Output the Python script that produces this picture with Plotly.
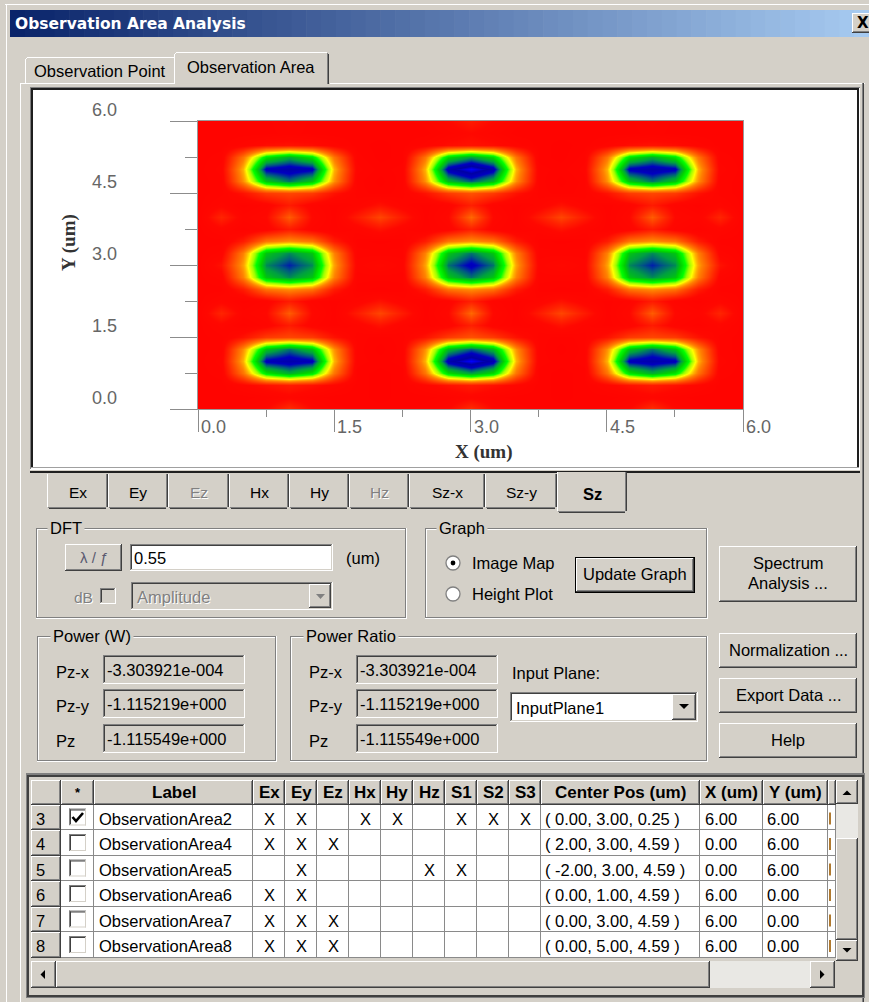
import plotly.graph_objects as go

W, H = 869, 1002
FACE = "#d4d0c8"
DARK = "#404040"
SHADOW = "#808080"
LIGHT = "#ffffff"
CHECK = "#e9e8e4"
UI_FONT = "Liberation Sans"
UI_SIZE = 16.5

# ---------------- data ----------------
x_um = [0.0, 0.25, 0.5, 0.75, 1.0, 1.25, 1.5, 1.75, 2.0, 2.25, 2.5, 2.75, 3.0,
        3.25, 3.5, 3.75, 4.0, 4.25, 4.5, 4.75, 5.0, 5.25, 5.5, 5.75, 6.0]
y_um = [0.0, 0.25, 0.5, 0.75, 1.0, 1.25, 1.5, 1.75, 2.0, 2.25, 2.5, 2.75, 3.0,
        3.25, 3.5, 3.75, 4.0, 4.25, 4.5, 4.75, 5.0, 5.25, 5.5, 5.75, 6.0]
# relative |Sz| (0-100), rows from y = 0.0 (bottom) to y = 6.0 (top)
sz_map = [
    [4, 4, 5, 8, 16, 8, 5, 4, 4, 4, 5, 8, 16, 8, 5, 4, 4, 4, 5, 8, 16, 8, 5, 4, 4],
    [4, 4, 4, 5, 7, 5, 4, 4, 3, 4, 4, 5, 7, 5, 4, 4, 3, 4, 4, 5, 7, 5, 4, 4, 4],
    [4, 4, 7, 10, 12, 10, 7, 4, 3, 4, 7, 10, 12, 10, 7, 4, 3, 4, 7, 10, 12, 10, 7, 4, 4],
    [4, 5, 28, 62, 72, 62, 28, 4, 3, 4, 28, 64, 74, 64, 28, 4, 3, 4, 28, 62, 72, 62, 28, 5, 4],
    [4, 6, 36, 88, 91, 88, 36, 5, 4, 5, 36, 90, 100, 90, 36, 5, 4, 5, 36, 88, 91, 88, 36, 6, 4],
    [4, 5, 32, 68, 78, 68, 32, 5, 3, 5, 32, 70, 80, 70, 32, 5, 3, 5, 32, 68, 78, 68, 32, 5, 4],
    [4, 5, 10, 18, 20, 18, 10, 5, 4, 5, 10, 18, 22, 18, 10, 5, 4, 5, 10, 18, 20, 18, 10, 5, 4],
    [4, 7, 4, 6, 12, 6, 4, 6, 10, 6, 4, 6, 13, 6, 4, 6, 10, 6, 4, 6, 12, 6, 4, 7, 4],
    [4, 14, 6, 8, 24, 8, 4, 12, 20, 12, 4, 8, 26, 8, 4, 12, 20, 12, 4, 8, 24, 8, 6, 14, 4],
    [4, 7, 4, 6, 12, 6, 4, 6, 10, 6, 4, 6, 13, 6, 4, 6, 10, 6, 4, 6, 12, 6, 4, 7, 4],
    [4, 4, 12, 28, 32, 28, 12, 4, 3, 4, 12, 28, 32, 28, 12, 4, 3, 4, 12, 28, 32, 28, 12, 4, 4],
    [4, 6, 30, 68, 76, 68, 30, 5, 5, 5, 30, 68, 78, 68, 30, 5, 5, 5, 30, 68, 76, 68, 30, 6, 4],
    [4, 10, 34, 76, 84, 76, 34, 6, 8, 6, 34, 78, 88, 78, 34, 6, 8, 6, 34, 76, 84, 76, 34, 10, 4],
    [4, 6, 30, 68, 76, 68, 30, 5, 5, 5, 30, 68, 78, 68, 30, 5, 5, 5, 30, 68, 76, 68, 30, 6, 4],
    [4, 4, 12, 28, 32, 28, 12, 4, 3, 4, 12, 28, 32, 28, 12, 4, 3, 4, 12, 28, 32, 28, 12, 4, 4],
    [4, 7, 4, 6, 12, 6, 4, 6, 10, 6, 4, 6, 13, 6, 4, 6, 10, 6, 4, 6, 12, 6, 4, 7, 4],
    [4, 14, 6, 8, 24, 8, 4, 12, 20, 12, 4, 8, 26, 8, 4, 12, 20, 12, 4, 8, 24, 8, 6, 14, 4],
    [4, 7, 4, 6, 12, 6, 4, 6, 10, 6, 4, 6, 13, 6, 4, 6, 10, 6, 4, 6, 12, 6, 4, 7, 4],
    [4, 5, 10, 18, 20, 18, 10, 5, 4, 5, 10, 18, 22, 18, 10, 5, 4, 5, 10, 18, 20, 18, 10, 5, 4],
    [4, 5, 32, 68, 78, 68, 32, 5, 3, 5, 32, 70, 80, 70, 32, 5, 3, 5, 32, 68, 78, 68, 32, 5, 4],
    [4, 6, 36, 88, 91, 88, 36, 6, 4, 5, 36, 90, 100, 90, 36, 5, 4, 6, 36, 88, 91, 88, 36, 6, 4],
    [4, 5, 28, 62, 72, 62, 28, 5, 3, 4, 28, 64, 74, 64, 28, 4, 3, 5, 28, 62, 72, 62, 28, 5, 4],
    [4, 4, 6, 9, 10, 9, 6, 4, 3, 4, 6, 9, 10, 9, 6, 4, 3, 4, 6, 9, 10, 9, 6, 4, 4],
    [4, 4, 4, 4, 5, 4, 4, 4, 4, 4, 4, 6, 8, 6, 4, 4, 4, 4, 4, 4, 5, 4, 4, 4, 4],
    [4, 4, 4, 4, 6, 4, 4, 4, 4, 4, 5, 8, 12, 8, 5, 4, 4, 4, 4, 4, 6, 4, 4, 4, 4],
]
axis_ticks = [0.0, 1.5, 3.0, 4.5, 6.0]
axis_minor = [0.75, 2.25, 3.75, 5.25]
axis_tick_text = ["0.0", "1.5", "3.0", "4.5", "6.0"]

field_tabs = ["Ex", "Ey", "Ez", "Hx", "Hy", "Hz", "Sz-x", "Sz-y", "Sz"]
field_enabled = [True, True, False, True, True, False, True, True, True]
dft_value = "0.55"
power_labels = ["Pz-x", "Pz-y", "Pz"]
power_w = ["-3.303921e-004", "-1.115219e+000", "-1.115549e+000"]
power_ratio = ["-3.303921e-004", "-1.115219e+000", "-1.115549e+000"]

grid_headers = ["*", "Label", "Ex", "Ey", "Ez", "Hx", "Hy", "Hz", "S1", "S2", "S3",
                "Center Pos (um)", "X (um)", "Y (um)"]
grid_row_ids = ["3", "4", "5", "6", "7", "8"]
grid_checked = [True, False, False, False, False, False]
grid_labels = ["ObservationArea2", "ObservationArea4", "ObservationArea5",
               "ObservationArea6", "ObservationArea7", "ObservationArea8"]
grid_marks = [
    ["X", "X", "", "X", "X", "", "X", "X", "X"],
    ["X", "X", "X", "", "", "", "", "", ""],
    ["", "X", "", "", "", "X", "X", "", ""],
    ["X", "X", "", "", "", "", "", "", ""],
    ["X", "X", "X", "", "", "", "", "", ""],
    ["X", "X", "X", "", "", "", "", "", ""],
]
grid_center = ["( 0.00, 3.00, 0.25 )", "( 2.00, 3.00, 4.59 )", "( -2.00, 3.00, 4.59 )",
               "( 0.00, 1.00, 4.59 )", "( 0.00, 3.00, 4.59 )", "( 0.00, 5.00, 4.59 )"]
grid_xsize = ["6.00", "0.00", "0.00", "6.00", "6.00", "6.00"]
grid_ysize = ["6.00", "6.00", "6.00", "0.00", "0.00", "0.00"]

# ---------------- helpers (pixel -> paper) ----------------
shapes, ann = [], []


def fx(x):
    return x / W


def fy(y):
    return 1 - y / H


def box(x0, y0, x1, y1, fill):
    shapes.append(dict(type="rect", xref="paper", yref="paper", x0=fx(x0), x1=fx(x1),
                       y0=fy(y1), y1=fy(y0), fillcolor=fill, line=dict(width=0), layer="below"))


def hl(x0, x1, y, c):
    box(x0, y, x1, y + 1, c)


def vl(x, y0, y1, c):
    box(x, y0, x + 1, y1, c)


def raised(x0, y0, x1, y1):
    box(x0, y0, x1, y1, FACE)
    hl(x0, x1 - 1, y0, LIGHT)
    vl(x0, y0, y1 - 1, LIGHT)
    hl(x0, x1, y1 - 1, DARK)
    vl(x1 - 1, y0, y1, DARK)
    hl(x0 + 1, x1 - 1, y1 - 2, SHADOW)
    vl(x1 - 2, y0 + 1, y1 - 1, SHADOW)


def sunken(x0, y0, x1, y1, fill="white"):
    box(x0, y0, x1, y1, fill)
    hl(x0, x1 - 1, y0, SHADOW)
    vl(x0, y0, y1 - 1, SHADOW)
    hl(x0 + 1, x1 - 2, y0 + 1, DARK)
    vl(x0 + 1, y0 + 1, y1 - 2, DARK)
    hl(x0, x1, y1 - 1, LIGHT)
    vl(x1 - 1, y0, y1, LIGHT)
    hl(x0 + 1, x1 - 1, y1 - 2, FACE)
    vl(x1 - 2, y0 + 1, y1 - 1, FACE)


def etched(x0, y0, x1, y1):
    hl(x0, x1 - 1, y0, SHADOW)
    hl(x0 + 1, x1 - 2, y0 + 1, LIGHT)
    vl(x0, y0, y1 - 1, SHADOW)
    vl(x0 + 1, y0 + 1, y1 - 2, LIGHT)
    hl(x0, x1 - 1, y1 - 2, SHADOW)
    hl(x0, x1, y1 - 1, LIGHT)
    vl(x1 - 2, y0, y1 - 1, SHADOW)
    vl(x1 - 1, y0, y1, LIGHT)


def text(x, y, s, size=UI_SIZE, color="black", anchor="left", bold=False,
         family=UI_FONT, bg=None, pad=0):
    d = dict(xref="paper", yref="paper", x=fx(x), y=fy(y),
             text=f"<b>{s}</b>" if bold else s, showarrow=False,
             xanchor=anchor, yanchor="middle",
             font=dict(family=family, size=size, color=color), borderpad=pad)
    if bg:
        d["bgcolor"] = bg
    ann.append(d)


def dtext(x, y, s, size=UI_SIZE, anchor="left"):
    text(x + 1, y + 1, s, size=size, color=LIGHT, anchor=anchor)
    text(x, y, s, size=size, color=SHADOW, anchor=anchor)


def path(pts, fill="black", close=True, lw=0, lc="black"):
    p = "M" + " L".join(f"{fx(x):.6f},{fy(y):.6f}" for x, y in pts) + (" Z" if close else "")
    shapes.append(dict(type="path", xref="paper", yref="paper", path=p,
                       fillcolor=fill if close else "rgba(0,0,0,0)",
                       line=dict(width=lw, color=lc), layer="below"))


def circle(cx, cy, r, fill, lc=None, lw=0):
    shapes.append(dict(type="circle", xref="paper", yref="paper", x0=fx(cx - r), x1=fx(cx + r),
                       y0=fy(cy + r), y1=fy(cy - r), fillcolor=fill,
                       line=dict(width=lw, color=lc or fill), layer="below"))


def button(x0, y0, x1, y1, label_lines, default=False):
    if default:
        box(x0, y0, x1, y1, "black")
        raised(x0 + 1, y0 + 1, x1 - 1, y1 - 1)
    else:
        raised(x0, y0, x1, y1)
    cx = (x0 + x1) / 2
    n = len(label_lines)
    cy = (y0 + y1) / 2 - 1
    for i, s in enumerate(label_lines):
        text(cx, cy + (i - (n - 1) / 2) * 20, s, anchor="center")


# ---------------- window chrome ----------------
hl(5, W, 4, LIGHT)
vl(6, 4, H, LIGHT)
c0, c1 = (10, 36, 106), (166, 202, 240)
n = 58
tx0, tx1 = 10, W
for i in range(n):
    a = i / (n - 1)
    col = "#%02x%02x%02x" % tuple(int(round(c0[k] + (c1[k] - c0[k]) * a)) for k in range(3))
    xa = tx0 + (tx1 - tx0) * i / n
    xb = tx0 + (tx1 - tx0) * (i + 1) / n + 0.6
    box(xa, 10, xb, 37, col)
text(14, 24, "Observation Area Analysis", size=15.5, color="white", bold=True, family="DejaVu Sans")
raised(852, 13, 872, 33)
text(856, 23, "X", size=15, bold=True, family="DejaVu Sans")

# tab control
hl(20, 865, 83, LIGHT)
vl(20, 83, H, LIGHT)
vl(862, 83, H, SHADOW)
vl(863, 83, H, DARK)
# unselected tab
box(25, 57, 174, 83, FACE)
hl(27, 174, 57, LIGHT)
vl(25, 59, 83, LIGHT)
box(26, 58, 27, 59, LIGHT)
text(99.5, 71, "Observation Point", anchor="center")
# selected tab
box(174, 52, 330, 85, FACE)
hl(176, 327, 52, LIGHT)
vl(174, 54, 84, LIGHT)
box(175, 53, 176, 54, LIGHT)
vl(327, 53, 84, SHADOW)
vl(328, 54, 84, DARK)
text(251, 67, "Observation Area", anchor="center")

# plot panel
box(30, 87, 860, 470, "white")
hl(30, 860, 87, SHADOW)
vl(30, 87, 470, SHADOW)
box(31, 88, 859, 90, "#1e1e1e")
box(31, 88, 33, 468, "#1e1e1e")
box(857, 88, 859, 468, "#1e1e1e")
hl(31, 859, 467, "#a0a0a0")
hl(30, 860, 469, LIGHT)
box(30, 471, 860, 473, "#202020")

# field tabs (bottom tabs)
tb = [47, 108, 168, 229, 289, 349, 409, 485, 557, 627]
for i, lab in enumerate(field_tabs):
    x0, x1 = tb[i], tb[i + 1]
    sel = lab == "Sz"
    y0, y1 = (472, 513) if sel else (474, 509)
    box(x0, y0, x1, y1, FACE)
    vl(x0, y0, y1 - 2, LIGHT)
    vl(x1 - 2, y0, y1 - 2, SHADOW)
    vl(x1 - 1, y0, y1 - 2, DARK)
    hl(x0 + 1, x1 - 2, y1 - 2, SHADOW)
    hl(x0 + 2, x1 - 2, y1 - 1, DARK)
    cx = (x0 + x1) / 2
    if sel:
        text(cx, 494, lab, anchor="center", bold=True)
    elif field_enabled[i]:
        text(cx, 492, lab, anchor="center", size=15.5)
    else:
        dtext(cx, 492, lab, size=15.5, anchor="center")

# DFT group
etched(36, 528, 407, 619)
text(47, 528, "DFT", bg=FACE, pad=2)
raised(65, 544, 122, 571)
text(93.5, 557, "λ / ƒ", anchor="center", color="#5a5a70", size=15)
sunken(130, 544, 333, 571)
text(133, 558, dft_value)
text(345, 558, "(um)")
dtext(73, 597, "dB", size=15.5)
sunken(100, 588, 116, 604, FACE)
sunken(131, 582, 333, 610, FACE)
dtext(136, 597, "Amplitude")
raised(309, 584, 331, 608)
path([(316, 594), (325, 594), (320.5, 599)], fill=SHADOW)

# Graph group
etched(425, 528, 708, 619)
text(436, 528, "Graph", bg=FACE, pad=2)
for cy in (563, 594):
    circle(453, cy, 7, "white", lc=SHADOW, lw=1.3)
circle(453, 563, 2.4, "black")
text(471, 563, "Image Map")
text(471, 594, "Height Plot")
button(575, 557, 695, 593, ["Update Graph"], default=True)

# right buttons
button(719, 546, 857, 602, ["Spectrum", "Analysis ..."])
button(719, 633, 857, 668, ["Normalization ..."])
button(719, 678, 857, 713, ["Export Data ..."])
button(719, 723, 857, 758, ["Help"])

# Power groups
etched(37, 636, 277, 762)
text(50, 636, "Power (W)", bg=FACE, pad=2)
etched(290, 636, 708, 762)
text(303, 636, "Power Ratio", bg=FACE, pad=2)
rows_y = [(655, 684), (689, 718), (724, 753)]
for (y0, y1), lab, v1, v2 in zip(rows_y, power_labels, power_w, power_ratio):
    cy = (y0 + y1) / 2
    text(55, cy + 2, lab)
    sunken(103, y0, 245, y1, FACE)
    text(106, cy, v1)
    text(308, cy + 2, lab)
    sunken(356, y0, 498, y1, FACE)
    text(359, cy, v2)
text(511, 673, "Input Plane:")
sunken(510, 692, 698, 722)
text(515, 708, "InputPlane1")
raised(672, 694, 696, 720)
path([(679, 704), (689, 704), (684, 709)])

# ---------------- grid ----------------
box(26, 773, 865, 998, SHADOW)
box(27, 775, 864, 997, DARK)
box(29, 777, 862, 995, FACE)
ce = [31, 61, 94, 253, 285, 317, 349, 381, 413, 445, 477, 509, 541, 700, 763, 828, 836]
ry = [805, 830, 856, 881, 907, 932, 958]
HY0, HY1 = 780, 805


def hdr_cell(x0, y0, x1, y1):
    box(x0, y0, x1, y1, FACE)
    hl(x0, x1, y0, LIGHT)
    vl(x0, y0, y1, LIGHT)
    hl(x0, x1, y1 - 1, DARK)
    vl(x1 - 1, y0, y1, DARK)
    hl(x0 + 1, x1 - 1, y1 - 2, SHADOW)
    vl(x1 - 2, y0 + 1, y1 - 1, SHADOW)


box(ce[0], HY0, ce[-1], ry[-1], "white")
for j in range(len(ce) - 1):
    hdr_cell(ce[j], HY0, ce[j + 1], HY1)
for j, h in enumerate(grid_headers):
    cx = (ce[j + 1] + ce[j + 2]) / 2
    text(cx, 792, h, size=17 if h != "*" else 13, bold=True, anchor="center")
for i in range(len(grid_row_ids)):
    y0, y1 = ry[i], ry[i + 1]
    hdr_cell(ce[0], y0, ce[1], y1)
    hl(ce[1], ce[-1], y1 - 1, "#8a8a8a")
for j in range(1, len(ce) - 1):
    vl(ce[j + 1] - 1, HY1, ry[-1], "#8a8a8a")

for i, rid in enumerate(grid_row_ids):
    y0, y1 = ry[i], ry[i + 1]
    cy = (y0 + y1) / 2
    text(35, cy + 1, rid, size=UI_SIZE)
    sunken(69, cy - 9, 87, cy + 9)
    if grid_checked[i]:
        path([(72.5, cy - 0.5), (76, cy + 3.5), (83, cy - 4.5)], close=False, lw=2.6)
    text(98, cy + 1, grid_labels[i], size=UI_SIZE)
    for k, m in enumerate(grid_marks[i]):
        if m:
            text((ce[3 + k] + ce[4 + k]) / 2, cy + 1, m, anchor="center", size=UI_SIZE)
    text(544, cy + 1, grid_center[i], size=UI_SIZE)
    text(704, cy + 1, grid_xsize[i], size=UI_SIZE)
    text(766, cy + 1, grid_ysize[i], size=UI_SIZE)
    box(829, cy - 5, 831, cy + 7, "#b07a30")

# vertical scrollbar
raised(836, 780, 858, 804)
path([(842.5, 795), (851.5, 795), (847, 790.5)])
box(836, 804, 858, 838, CHECK)
raised(836, 838, 858, 940)
raised(836, 940, 858, 961)
path([(842.5, 948), (851.5, 948), (847, 952.5)])
# horizontal scrollbar
raised(31, 961, 56, 988)
path([(40.5, 974.5), (45, 970), (45, 979)])
raised(56, 961, 710, 988)
box(710, 961, 810, 988, CHECK)
raised(810, 961, 835, 988)
path([(820, 970), (820, 979), (824.5, 974.5)])

# ---------------- chart ----------------
colorscale = [
    [0.00, "#ff0000"], [0.08, "#ff0800"], [0.14, "#ff2400"], [0.22, "#ff5000"],
    [0.30, "#ff8000"], [0.36, "#ffb400"], [0.42, "#ffff00"], [0.50, "#9cff00"],
    [0.57, "#00ff00"], [0.66, "#00d000"], [0.74, "#00a040"], [0.80, "#005a80"],
    [0.86, "#0000c0"], [0.93, "#0000a4"], [1.00, "#0000ff"],
]
fig = go.Figure(go.Heatmap(x=x_um, y=y_um, z=sz_map, zmin=0, zmax=100,
                           colorscale=colorscale, zsmooth="best", showscale=False,
                           hoverinfo="skip"))

TICKC = "#8c8c8c"
for v, s in zip(axis_ticks, axis_tick_text):
    ann.append(dict(xref="paper", yref="y", x=fx(119), y=v, yshift=11, text=s,
                    showarrow=False, xanchor="right", yanchor="middle",
                    font=dict(family="Liberation Sans", size=18, color="#666666")))
    ann.append(dict(xref="x", yref="paper", x=v, xshift=1, y=fy(427), text=s,
                    showarrow=False, xanchor="left", yanchor="middle",
                    font=dict(family="Liberation Sans", size=18, color="#666666")))
text(484, 452, "X (um)", size=19, bold=True, family="Liberation Serif", color="#333333", anchor="center")
ann.append(dict(xref="paper", yref="paper", x=fx(69), y=fy(243), text="<b>Y (um)</b>",
                showarrow=False, textangle=-90, xanchor="center", yanchor="middle",
                font=dict(family="Liberation Serif", size=19, color="#333333")))

axis_common = dict(range=[0, 6], showgrid=False, zeroline=False, showline=True,
                   linecolor="#9a9a9a", linewidth=1, mirror=True, ticks="outside",
                   tickvals=axis_ticks, tickcolor=TICKC, tickwidth=1,
                   showticklabels=False, fixedrange=True)
fig.update_layout(
    width=W, height=H, margin=dict(l=0, r=0, t=0, b=0),
    paper_bgcolor=FACE, plot_bgcolor="white", showlegend=False,
    xaxis=dict(domain=[198 / W, 743 / W], ticklen=22,
               minor=dict(tickvals=axis_minor, ticks="outside", ticklen=7,
                          tickcolor=TICKC, tickwidth=1), **axis_common),
    yaxis=dict(domain=[1 - 409 / H, 1 - 121 / H], ticklen=27,
               minor=dict(tickvals=axis_minor, ticks="outside", ticklen=12,
                          tickcolor=TICKC, tickwidth=1), **axis_common),
    shapes=shapes, annotations=ann,
)
fig.write_html("out.html")
